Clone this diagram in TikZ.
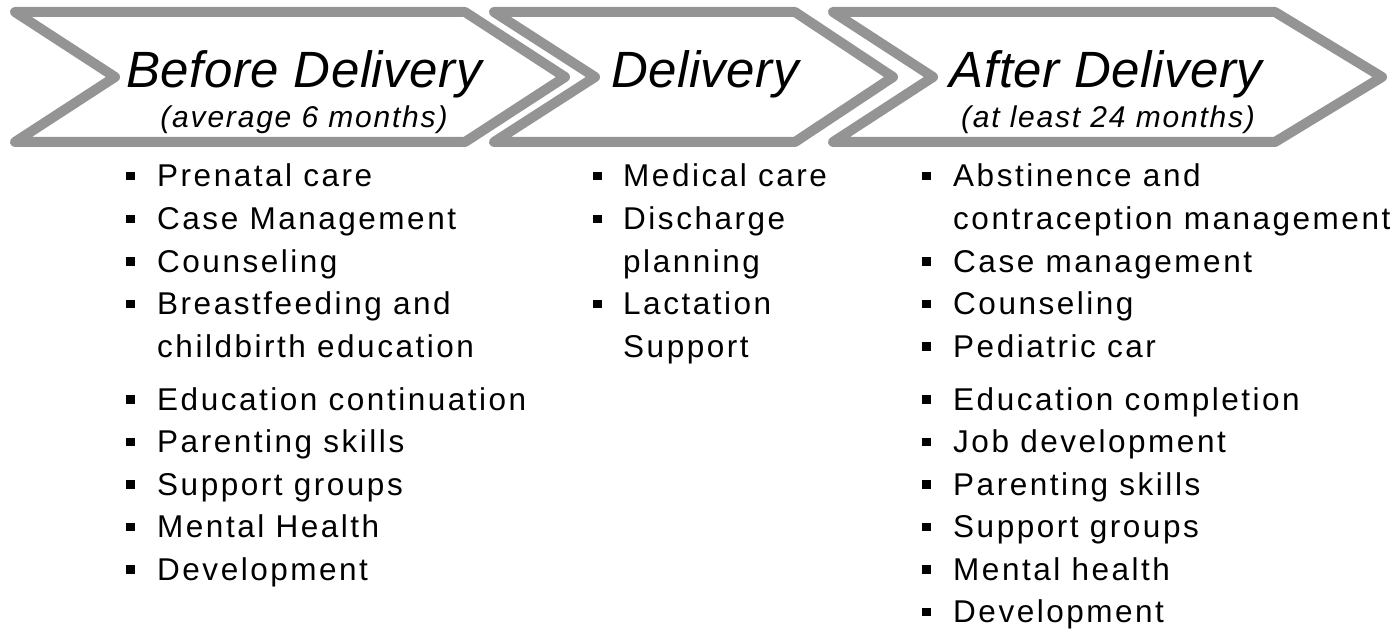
\documentclass[tikz,border=0pt]{standalone}
\usepackage{fontspec}
\setmainfont{Liberation Sans}
\newfontfamily\headfont[LetterSpace=1]{Liberation Sans}
\newfontfamily\subfont[LetterSpace=6]{Liberation Sans}
\newfontfamily\itemfont[LetterSpace=8]{Liberation Sans}
\definecolor{chevgray}{RGB}{148,148,148}
\newcommand{\sqb}{\rule[6.5bp]{8.5bp}{8.5bp}}
\tikzset{
  chevron/.style={draw=chevgray, line width=10bp, line join=round, fill=white},
  headtext/.style={inner sep=0pt, anchor=base, font=\headfont\itshape\fontsize{51bp}{51bp}\selectfont},
  subtext/.style={inner sep=0pt, anchor=base, font=\subfont\itshape\fontsize{30bp}{30bp}\selectfont},
  itemlist/.style={inner sep=0pt, anchor=base west, font=\itemfont\fontsize{31.5bp}{42.5bp}\selectfont},
}
\begin{document}
\begin{tikzpicture}[x=1bp,y=-1bp]
    \useasboundingbox (0,0) rectangle (1399,631);

    % Draw the three chevrons
    \draw[chevron] (15,12) -- (465,12) -- (565,77) -- (465,142) -- (15,142) -- (115,77) -- cycle;
    \draw[chevron] (494,12) -- (795,12) -- (893,77) -- (795,142) -- (494,142) -- (595,77) -- cycle;
    \draw[chevron] (833,12) -- (1275,12) -- (1382,77) -- (1275,142) -- (833,142) -- (933,77) -- cycle;

    % Headings
    \node[headtext] (before) at (304,88) {Before Delivery};
    \node[subtext] (beforesub) at (304,128) {(average 6 months)};
    \node[headtext] (delivery) at (705,88) {Delivery};
    \node[headtext] (after) at (1106,88) {After Delivery};
    \node[subtext] (aftersub) at (1108,128) {(at least 24 months)};

    % Lists
    \node[itemlist] (beforelist) at (126,187) {%
      \begin{tabular}[t]{@{}l@{\hspace{22.5bp}}l@{}}
        \sqb & Prenatal care\\
        \sqb & Case Management\\
        \sqb & Counseling\\
        \sqb & Breastfeeding and\\
             & childbirth education\\[10.5bp]
        \sqb & Education continuation\\
        \sqb & Parenting skills\\
        \sqb & Support groups\\
        \sqb & Mental Health\\
        \sqb & Development
      \end{tabular}};
    \node[itemlist] (deliverylist) at (593,187) {%
      \begin{tabular}[t]{@{}l@{\hspace{21.5bp}}l@{}}
        \sqb & Medical care\\
        \sqb & Discharge\\
             & planning\\
        \sqb & Lactation\\
             & Support
      \end{tabular}};
    \node[itemlist] (afterlist) at (922,187) {%
      \begin{tabular}[t]{@{}l@{\hspace{22.5bp}}l@{}}
        \sqb & Abstinence and\\
             & contraception management\\
        \sqb & Case management\\
        \sqb & Counseling\\
        \sqb & Pediatric car\\[10.5bp]
        \sqb & Education completion\\
        \sqb & Job development\\
        \sqb & Parenting skills\\
        \sqb & Support groups\\
        \sqb & Mental health\\
        \sqb & Development
      \end{tabular}};
\end{tikzpicture}
\end{document}
